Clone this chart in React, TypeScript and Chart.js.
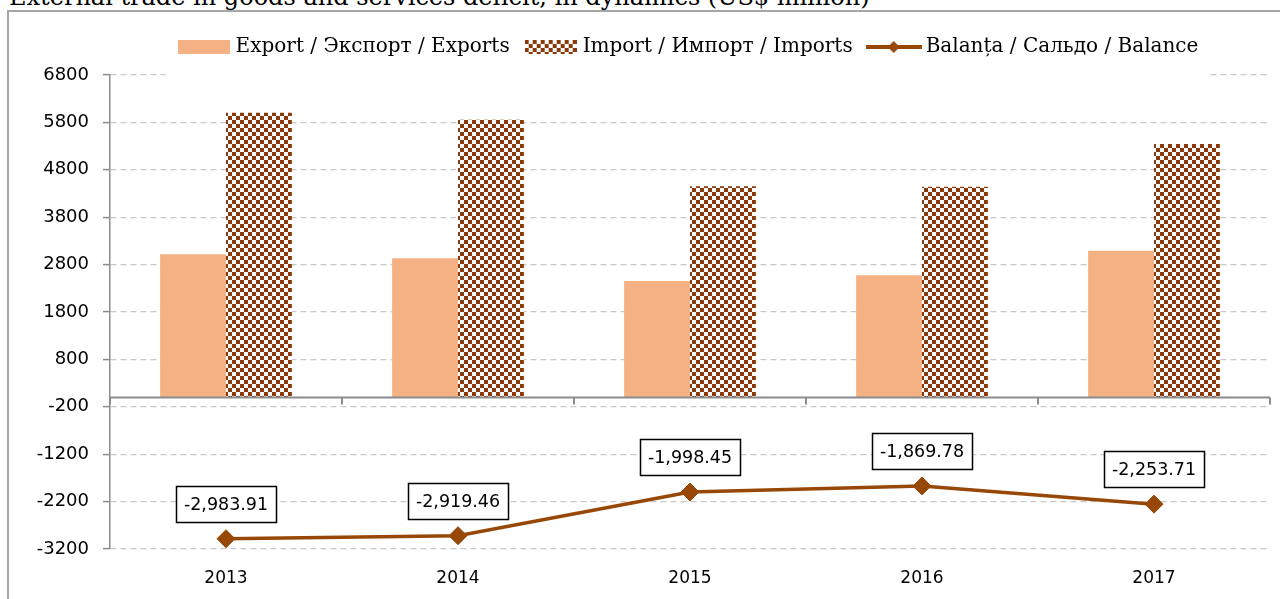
import React, { useEffect, useRef } from "react";
import { Chart, registerables } from "chart.js";

Chart.register(...registerables);

const categories = ["2013", "2014", "2015", "2016", "2017"];
const exportValues = [3020, 2935, 2455, 2575, 3090];
const importValues = [6004, 5854, 4453, 4445, 5344];
const balanceValues = [-2983.91, -2919.46, -1998.45, -1869.78, -2253.71];
const yTickValues = [-3200, -2200, -1200, -200, 800, 1800, 2800, 3800, 4800, 5800, 6800];
const seriesNames = [
  "Export / Экспорт / Exports",
  "Import / Импорт / Imports",
  "Balanța / Сальдо / Balance",
];
const chartTitle = "External trade in goods and services deficit, in dynamics (US$ million)";

const EXPORT_COLOR = "#F4B183";
const IMPORT_DARK = "#8A3A0A";
const LINE_COLOR = "#974706";
const SANS = "'DejaVu Sans', sans-serif";
const SERIF = "'DejaVu Serif', serif";

const LEGEND_HEIGHT = 57;

function checkerTile(): HTMLCanvasElement {
  const c = document.createElement("canvas");
  c.width = 8;
  c.height = 8;
  const g = c.getContext("2d")!;
  g.fillStyle = "#ffffff";
  g.fillRect(0, 0, 8, 8);
  g.fillStyle = IMPORT_DARK;
  g.fillRect(0, 0, 4, 4);
  g.fillRect(4, 4, 4, 4);
  return c;
}

function swatch(kind: number): HTMLCanvasElement {
  const c = document.createElement("canvas");
  const w = kind === 2 ? 56 : 52;
  const h = 14;
  c.width = w;
  c.height = h;
  const g = c.getContext("2d")!;
  if (kind === 0) {
    g.fillStyle = EXPORT_COLOR;
    g.fillRect(0, 0, w, h);
  } else if (kind === 1) {
    g.fillStyle = g.createPattern(checkerTile(), "repeat")!;
    g.fillRect(0, 0, w, h);
  } else {
    g.strokeStyle = LINE_COLOR;
    g.lineWidth = 4;
    g.beginPath();
    g.moveTo(0, h / 2);
    g.lineTo(w, h / 2);
    g.stroke();
    g.fillStyle = LINE_COLOR;
    g.beginPath();
    g.moveTo(w / 2, h / 2 - 6);
    g.lineTo(w / 2 + 6, h / 2);
    g.lineTo(w / 2, h / 2 + 6);
    g.lineTo(w / 2 - 6, h / 2);
    g.closePath();
    g.fill();
  }
  return c;
}

const legendSizePlugin = {
  id: "legendSize",
  beforeLayout(chart: any) {
    const lg = chart.legend;
    if (lg && !lg.__patched) {
      const fit = lg.fit.bind(lg);
      lg.fit = () => {
        fit();
        lg.height = LEGEND_HEIGHT;
      };
      lg.__patched = true;
    }
  },
};

const legendCoverPlugin = {
  id: "legendCover",
  afterDatasetsDraw(chart: any) {
    const lg = chart.legend;
    if (!lg || !lg.legendHitBoxes || !lg.legendHitBoxes.length) return;
    const hb = lg.legendHitBoxes;
    const left = hb[0].left - 16;
    const last = hb[hb.length - 1];
    const right = last.left + last.width + 8;
    const ctx = chart.ctx;
    ctx.save();
    ctx.fillStyle = "#ffffff";
    ctx.fillRect(left, lg.top, right - left, chart.chartArea.top + 3 - lg.top);
    ctx.restore();
    lg.draw();
  },
};

const zeroAxisPlugin = {
  id: "zeroAxis",
  afterDatasetsDraw(chart: any) {
    const ctx = chart.ctx;
    const xs = chart.scales.x;
    const y0 = Math.round(chart.scales.y.getPixelForValue(0)) + 0.5;
    const { left, right } = chart.chartArea;
    ctx.save();
    ctx.strokeStyle = "#8C8C8C";
    ctx.lineWidth = 2;
    ctx.beginPath();
    ctx.moveTo(left, y0);
    ctx.lineTo(right, y0);
    for (let i = 0; i <= categories.length; i++) {
      const x = Math.round(xs.getPixelForValue(i - 0.5));
      ctx.moveTo(x, y0);
      ctx.lineTo(x, y0 + 7);
    }
    ctx.stroke();
    ctx.restore();
  },
};

const balanceLabelPlugin = {
  id: "balanceLabels",
  afterDatasetsDraw(chart: any) {
    const meta = chart.getDatasetMeta(2);
    const ctx = chart.ctx;
    ctx.save();
    ctx.font = `17.5px ${SANS}`;
    ctx.textAlign = "center";
    ctx.textBaseline = "middle";
    meta.data.forEach((pt: any, i: number) => {
      const text = balanceValues[i].toLocaleString("en-US", {
        minimumFractionDigits: 2,
        maximumFractionDigits: 2,
      });
      const w = Math.round(ctx.measureText(text).width + 16);
      const h = 36;
      const cx = pt.x;
      const bottom = Math.round(pt.y - 17);
      const bx = Math.round(cx - w / 2) + 0.5;
      const by = bottom - h + 0.5;
      ctx.fillStyle = "#ffffff";
      ctx.fillRect(bx, by, w, h);
      ctx.strokeStyle = "#000000";
      ctx.lineWidth = 1.5;
      ctx.strokeRect(bx, by, w, h);
      ctx.fillStyle = "#000000";
      ctx.fillText(text, cx, bottom - h / 2 + 1);
    });
    ctx.restore();
  },
};

export default function App() {
  const canvasRef = useRef<HTMLCanvasElement | null>(null);

  useEffect(() => {
    const canvas = canvasRef.current;
    if (!canvas) return;
    const ctx = canvas.getContext("2d")!;
    const importPattern = ctx.createPattern(checkerTile(), "repeat")!;
    const swatches = [swatch(0), swatch(1), swatch(2)];

    const chart = new Chart(canvas, {
      type: "bar",
      data: {
        labels: categories,
        datasets: [
          {
            type: "bar",
            label: seriesNames[0],
            data: exportValues,
            backgroundColor: EXPORT_COLOR,
            borderWidth: 0,
            categoryPercentage: 0.568,
            barPercentage: 1,
            order: 2,
          },
          {
            type: "bar",
            label: seriesNames[1],
            data: importValues,
            backgroundColor: importPattern as any,
            borderWidth: 0,
            categoryPercentage: 0.568,
            barPercentage: 1,
            order: 2,
          },
          {
            type: "line",
            label: seriesNames[2],
            data: balanceValues,
            borderColor: LINE_COLOR,
            backgroundColor: LINE_COLOR,
            borderWidth: 3.5,
            tension: 0,
            pointStyle: "rectRot",
            pointRadius: 9,
            pointBackgroundColor: LINE_COLOR,
            pointBorderColor: LINE_COLOR,
            pointBorderWidth: 1,
            order: 0,
          } as any,
        ],
      },
      options: {
        responsive: false,
        animation: false,
        devicePixelRatio: 1,
        layout: { padding: { top: 18, right: 7, left: 0, bottom: 0 } },
        plugins: {
          tooltip: { enabled: false },
          legend: {
            position: "top",
            fullSize: false,
            labels: {
              usePointStyle: true,
              pointStyleWidth: 44,
              boxHeight: 14,
              padding: 19,
              color: "#000000",
              font: { family: SERIF, size: 20 },
              generateLabels: () =>
                seriesNames.map((t, i) => ({
                  text: t,
                  pointStyle: swatches[i] as any,
                  fillStyle: "transparent",
                  strokeStyle: "transparent",
                  lineWidth: 0,
                  hidden: false,
                  datasetIndex: i,
                })),
            },
          },
        },
        scales: {
          x: {
            grid: { display: false, drawTicks: false },
            border: { display: false },
            ticks: { font: { family: SANS, size: 17 }, color: "#000000", padding: 19 },
            afterFit: (s: any) => {
              s.height = 50;
            },
          },
          y: {
            min: -3200,
            max: 6800,
            afterBuildTicks: (s: any) => {
              s.ticks = yTickValues.map((v) => ({ value: v }));
            },
            ticks: {
              font: { family: SANS, size: 18 },
              color: "#000000",
              padding: 14,
              callback: (v: any) => String(v),
            },
            grid: {
              color: "#C8C8C8",
              lineWidth: 1.2,
              tickLength: 7,
              tickColor: "#8C8C8C",
              tickWidth: 1.5,
              tickBorderDash: [],
            },
            border: { display: true, color: "#8C8C8C", width: 1.5, dash: [6, 4] },
            afterFit: (s: any) => {
              s.width = 110;
            },
          },
        },
      } as any,
      plugins: [legendSizePlugin, legendCoverPlugin, zeroAxisPlugin, balanceLabelPlugin],
    });
    return () => chart.destroy();
  }, []);

  return (
    <div
      style={{
        position: "fixed",
        left: 0,
        top: 0,
        width: 1280,
        height: 599,
        overflow: "hidden",
        background: "#ffffff",
      }}
    >
      <div
        style={{
          position: "absolute",
          left: 9,
          top: -15,
          fontFamily: SERIF,
          fontSize: 24,
          lineHeight: "24px",
          whiteSpace: "nowrap",
          color: "#000000",
        }}
      >
        {chartTitle}
      </div>
      <div
        style={{
          position: "absolute",
          left: 7,
          top: 10,
          width: 1300,
          height: 640,
          border: "2px solid #A6A6A6",
          boxSizing: "border-box",
        }}
      />
      <canvas
        ref={canvasRef}
        width={1280}
        height={599}
        style={{ position: "absolute", left: 0, top: 0, width: 1280, height: 599 }}
      />
    </div>
  );
}
